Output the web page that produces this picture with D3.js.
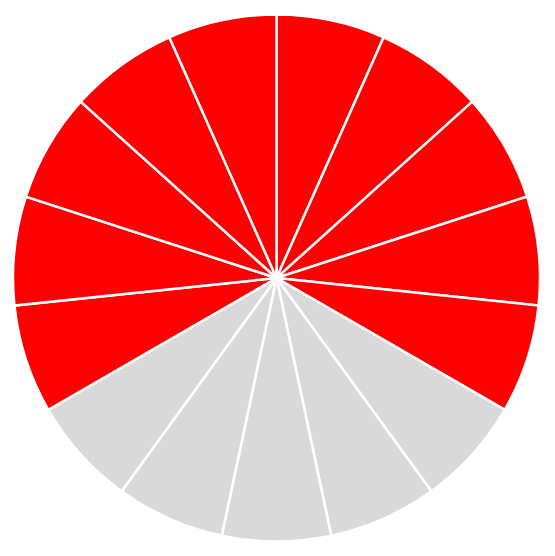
<!DOCTYPE html>
<html>
<head>
<meta charset="utf-8">
<script src="https://cdn.jsdelivr.net/npm/d3@7"></script>
<style>
html,body{margin:0;padding:0;background:#fff;}
svg{display:block;}
</style>
</head>
<body>
<svg id="chart" width="555" height="556"></svg>
<script>
// 15 equal slices: 10 red (filled), 5 grey (unfilled)
const slices = ["s1","s2","s3","s4","s5","s6","s7","s8","s9","s10","s11","s12","s13","s14","s15"];
const sliceValues = [1,1,1,1,1,1,1,1,1,1,1,1,1,1,1];
const sliceStatus = ["on","on","on","on","on","off","off","off","off","off","on","on","on","on","on"];

const svg = d3.select("#chart");
const cx = 276.5, cy = 278, r = 263.5;
const color = d3.scaleOrdinal().domain(["on","off"]).range(["#ff0000","#d9d9d9"]);
const pie = d3.pie().sort(null).value((d,i)=>sliceValues[i]);
const arc = d3.arc().innerRadius(0).outerRadius(r);
const g = svg.append("g").attr("transform",`translate(${cx},${cy})`);
g.selectAll("path").data(pie(slices)).join("path")
  .attr("d",arc)
  .attr("fill",(d,i)=>color(sliceStatus[i]))
  .attr("stroke","#fff")
  .attr("stroke-width",2.5);
</script>
</body>
</html>
